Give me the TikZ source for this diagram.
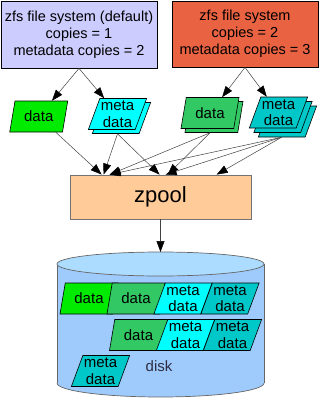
\documentclass[tikz,border=0pt]{standalone}
\usepackage{fontspec}
\setmainfont{Liberation Sans}
\usetikzlibrary{arrows.meta,shapes.geometric,shadows}

\definecolor{fsdefcol}{RGB}{204,204,255}
\definecolor{fscopycol}{RGB}{233,98,66}
\definecolor{datalight}{RGB}{0,235,0}
\definecolor{datadark}{RGB}{50,200,100}
\definecolor{metalight}{RGB}{0,255,255}
\definecolor{metadark}{RGB}{0,200,200}
\definecolor{poolcol}{RGB}{255,204,153}
\definecolor{diskside}{RGB}{158,202,252}
\definecolor{disktop}{RGB}{172,220,255}
\definecolor{disktext}{RGB}{45,45,65}

\begin{document}
\begin{tikzpicture}[
  x=1pt, y=-1pt,
  fsbox/.style={draw=black, line width=0.8pt, align=center, inner sep=0pt,
    font=\fontsize{14.5}{17}\selectfont},
  blockpara/.style={trapezium, trapezium left angle=68, trapezium right angle=112,
    trapezium stretches body, draw=black, line width=0.6pt, align=center,
    inner sep=1pt, minimum height=31pt, minimum width=58pt,
    font=\fontsize{15}{16.5}\selectfont},
  onecopy/.style={copy shadow={shadow xshift=4pt, shadow yshift=-4pt}},
  twocopy/.style={double copy shadow={shadow xshift=4.5pt, shadow yshift=-4.5pt}},
  flow/.style={-{Triangle[length=11pt,width=8pt,color=black]}, draw=black!75, line width=0.5pt},
  diskline/.style={draw=black!60, line width=0.7pt}
]
  \useasboundingbox (0,0) rectangle (321,400);

  % file systems
  \node[fsbox, fill=fsdefcol, minimum width=156pt, minimum height=67pt] (fsdefault) at (79,34.5)
    {zfs file system (default)\\copies = 1\\metadata copies = 2};
  \node[fsbox, fill=fscopycol, minimum width=146pt, minimum height=66pt] (fscopies) at (245,34)
    {zfs file system\\copies = 2\\metadata copies = 3};

  % blocks
  \node[blockpara, fill=datalight] (dat1) at (38.75,116.5) {data};
  \node[blockpara, fill=metalight, onecopy] (meta1) at (117.5,114) {meta\\data};
  \node[blockpara, fill=datadark, onecopy] (dat2) at (210,113) {data};
  \node[blockpara, fill=metadark, twocopy] (meta2) at (278.5,112.5) {meta\\data};

  \node[draw=black!55, line width=0.8pt, fill=poolcol, minimum width=181pt, minimum height=44pt,
    font=\fontsize{22}{24}\selectfont] (zpool) at (160.5,197) {zpool};

  \draw[flow] (fsdefault.south) -- (dat1);
  \draw[flow] (fsdefault.south) -- (meta1);
  \draw[flow] (fscopies.south) -- (dat2);
  \draw[flow] (fscopies.south) -- (meta2);

  \draw[flow] (dat1) -- ([xshift=32pt]zpool.north west);
  \draw[flow] ([yshift=-4pt]meta1.south) -- ([xshift=34pt]zpool.north west);
  \draw[flow] ([yshift=-4pt]meta1.south) -- ([xshift=90pt]zpool.north west);
  \draw[flow] ([yshift=-4pt]dat2.south) -- ([xshift=40pt]zpool.north west);
  \draw[flow] ([yshift=-4pt]dat2.south) -- ([xshift=98pt]zpool.north west);
  \draw[flow] ([xshift=3pt,yshift=-9pt]meta2.south) -- ([xshift=40pt]zpool.north west);
  \draw[flow] ([xshift=3pt,yshift=-9pt]meta2.south) -- ([xshift=96pt]zpool.north west);
  \draw[flow] ([xshift=3pt,yshift=-9pt]meta2.south) -- ([xshift=147pt]zpool.north west);

  % disk
  \fill[diskside] (57,264) rectangle (264,383);
  \fill[diskside] (160.5,383) ellipse [x radius=103.5, y radius=14];
  \begin{scope}
    \clip (50,383) rectangle (270,400);
    \draw[diskline] (160.5,383) ellipse [x radius=103.5, y radius=14];
  \end{scope}
  \draw[diskline] (57,264) -- (57,383);
  \draw[diskline] (264,264) -- (264,383);
  \filldraw[diskline, fill=disktop] (160.5,264) ellipse [x radius=103.5, y radius=12];
  \coordinate (disktop) at (160.5,252);
  \draw[flow] (zpool) -- (disktop);

  \node[blockpara, fill=datalight] (dk11) at (89,298.5) {data};
  \node[blockpara, fill=datadark] (dk12) at (136,298.5) {data};
  \node[blockpara, fill=metalight] (dk13) at (183,298.5) {meta\\data};
  \node[blockpara, fill=metadark] (dk14) at (230,298.5) {meta\\data};
  \node[blockpara, fill=datadark] (dk21) at (138.5,335) {data};
  \node[blockpara, fill=metalight] (dk22) at (185.5,335) {meta\\data};
  \node[blockpara, fill=metadark] (dk23) at (232.5,335) {meta\\data};
  \node[blockpara, fill=metadark] (dk31) at (100.5,371) {meta\\data};
  \node[text=disktext, font=\fontsize{15}{16.5}\selectfont] (disklabel) at (159,366) {disk};
\end{tikzpicture}
\end{document}
